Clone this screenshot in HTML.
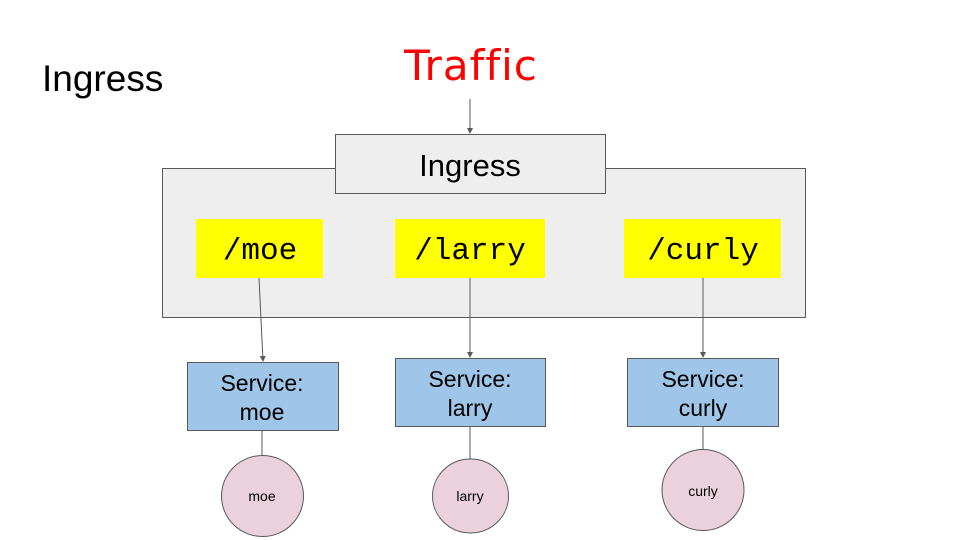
<!DOCTYPE html>
<html><head><meta charset="utf-8"><style>
body{margin:0;background:#fff;width:960px;height:540px;overflow:hidden;position:relative;font-family:"Liberation Sans",sans-serif}
</style></head><body>
<svg width="960" height="540" viewBox="0 0 960 540" xmlns="http://www.w3.org/2000/svg" style="position:absolute;left:0;top:0">
<defs><marker id="a" markerWidth="6" markerHeight="6" refX="5" refY="3" orient="auto"><path d="M0,0 L6,3 L0,6 z" fill="#595959"/></marker></defs>
<text x="42" y="91" font-size="37" fill="#000" font-family="Liberation Sans,sans-serif">Ingress</text>
<text x="471" y="80" font-size="42" fill="#ff0000" text-anchor="middle" font-family="'Comic Sans MS','DejaVu Sans',sans-serif" letter-spacing="1">Traffic</text>
<rect x="162.5" y="168.5" width="643" height="149" fill="#eeeeee" stroke="#595959"/>
<rect x="335.5" y="134.5" width="270" height="59" fill="#eeeeee" stroke="#595959"/>
<text x="470" y="176" font-size="31" text-anchor="middle" fill="#000">Ingress</text>
<line x1="470" y1="99" x2="470" y2="133" stroke="#595959" marker-end="url(#a)"/>
<rect x="196" y="219" width="127" height="59" fill="#ffff00"/>
<rect x="395" y="219" width="150" height="59" fill="#ffff00"/>
<rect x="624" y="219" width="157" height="59" fill="#ffff00"/>
<g font-family="'Liberation Mono',monospace" font-size="31" font-weight="normal" fill="#000" text-anchor="middle">
<text x="260" y="259">/moe</text><text x="470" y="259">/larry</text><text x="703" y="259">/curly</text></g>
<line x1="259" y1="278" x2="263" y2="361" stroke="#595959" marker-end="url(#a)"/>
<line x1="470" y1="278" x2="470" y2="357" stroke="#595959" marker-end="url(#a)"/>
<line x1="703" y1="278" x2="703" y2="357" stroke="#595959" marker-end="url(#a)"/>
<rect x="187.5" y="362.5" width="151" height="68" fill="#9fc5e8" stroke="#595959"/>
<rect x="395.5" y="358.5" width="150" height="68" fill="#9fc5e8" stroke="#595959"/>
<rect x="627.5" y="358.5" width="151" height="68" fill="#9fc5e8" stroke="#595959"/>
<g font-size="23" fill="#000" text-anchor="middle">
<text x="262" y="391">Service:</text><text x="262" y="420">moe</text>
<text x="470" y="387">Service:</text><text x="470" y="416">larry</text>
<text x="703" y="387">Service:</text><text x="703" y="416">curly</text></g>
<line x1="262" y1="430" x2="262" y2="455" stroke="#595959"/>
<line x1="470" y1="426" x2="470" y2="459" stroke="#595959"/>
<line x1="703" y1="426" x2="703" y2="450" stroke="#595959"/>
<ellipse cx="262.5" cy="496" rx="41" ry="40.5" fill="#ead1dc" stroke="#595959"/>
<ellipse cx="470.5" cy="496" rx="38" ry="37" fill="#ead1dc" stroke="#595959"/>
<ellipse cx="703" cy="490" rx="41" ry="40.5" fill="#ead1dc" stroke="#595959"/>
<g font-size="14" fill="#000" text-anchor="middle">
<text x="262" y="501">moe</text><text x="470" y="501">larry</text><text x="703" y="496">curly</text></g>
</svg>
</body></html>
